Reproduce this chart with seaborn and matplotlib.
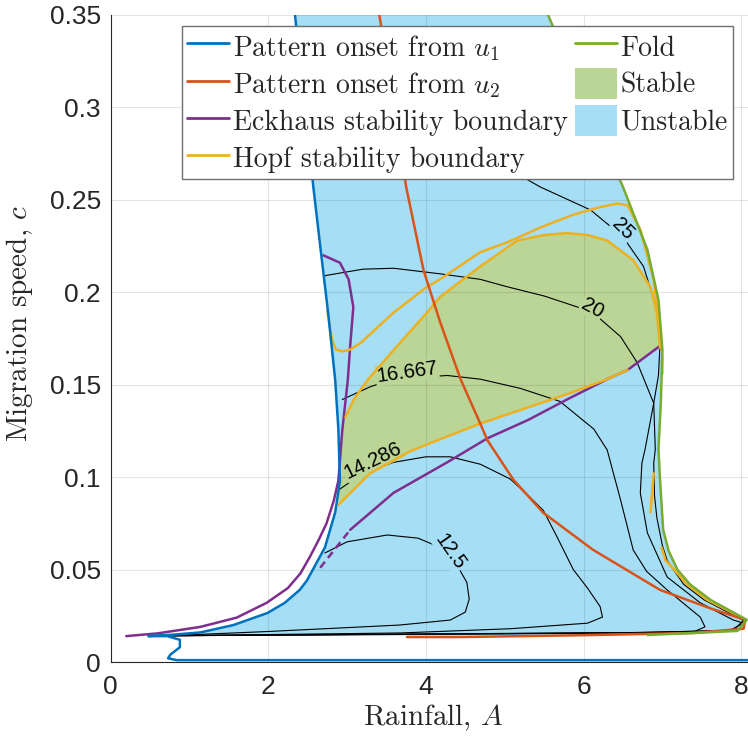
import numpy as np
import matplotlib
matplotlib.use("Agg")
import matplotlib.pyplot as plt
import seaborn as sns
from matplotlib.lines import Line2D
from matplotlib.patches import Patch

# ---------- 0. values (A = rainfall, c = migration speed) ----------

# pattern onset from u1: upper branch, cusp, wiggle, then the c ~ 0 branch
onset_u1_A = [2.34, 2.57, 2.66, 2.76, 2.85, 2.89, 2.91, 2.85, 2.72, 2.49, 2.40, 2.21, 1.99, 1.56,
              1.14, 0.80, 0.48, 0.72, 0.88, 0.88, 0.76, 0.73, 0.84, 8.2]
onset_u1_c = [0.350, 0.258, 0.225, 0.189, 0.1525, 0.126, 0.098, 0.081, 0.062, 0.044, 0.039, 0.032,
              0.0265, 0.020, 0.016, 0.0148, 0.014, 0.014, 0.012, 0.008, 0.004, 0.002, 0.001, 0.001]

# pattern onset from u2
onset_u2_A = [3.41, 3.60, 3.75, 3.97, 4.18, 4.44, 4.69, 4.78, 5.11, 5.49, 6.12, 6.97, 7.61, 8.05,
              8.03, 7.39, 6.00, 4.44, 3.76]
onset_u2_c = [0.350, 0.300, 0.257, 0.212, 0.184, 0.153, 0.129, 0.120, 0.0986, 0.0807, 0.0607, 0.039,
              0.029, 0.0228, 0.018, 0.0157, 0.0145, 0.0135, 0.0135]

# Eckhaus boundary, outer left branch
eck1_A = [0.20, 0.60, 1.14, 1.60, 1.98, 2.25, 2.41, 2.53, 2.64, 2.74, 2.83, 2.89, 2.94, 3.01, 3.04,
          3.08, 3.02, 2.91, 2.70]
eck1_c = [0.014, 0.0155, 0.019, 0.024, 0.032, 0.040, 0.048, 0.057, 0.066, 0.075, 0.087, 0.098,
          0.1255, 0.1525, 0.171, 0.192, 0.207, 0.216, 0.220]

# Eckhaus boundary, inner diagonal branch
eck2_A = [2.66, 3.04, 3.59, 4.27, 4.78, 5.30, 5.79, 6.30, 6.56, 6.97]
eck2_c = [0.051, 0.0715, 0.0915, 0.108, 0.121, 0.131, 0.142, 0.153, 0.158, 0.171]

# Hopf boundary pieces
hopf1_A = [2.75, 2.77, 2.81, 2.86, 2.94, 3.04, 3.17, 3.59, 4.01, 4.18, 4.69, 5.03, 5.45, 5.87,
           6.20, 6.43, 6.56, 6.72, 6.89, 6.97, 7.00, 7.00]
hopf1_c = [0.190, 0.185, 0.174, 0.169, 0.168, 0.169, 0.1725, 0.189, 0.2028, 0.207, 0.2217, 0.227,
           0.235, 0.242, 0.246, 0.248, 0.247, 0.234, 0.2066, 0.1796, 0.165, 0.156]
hopf2_A = [2.98, 3.08, 3.26, 3.59, 4.01, 4.18, 4.69, 5.16, 5.50, 5.79, 6.05, 6.30, 6.63, 6.85,
           6.93, 6.97]
hopf2_c = [0.1325, 0.1417, 0.1525, 0.1687, 0.1888, 0.1975, 0.214, 0.228, 0.231, 0.232, 0.231,
           0.228, 0.2174, 0.2028, 0.1888, 0.170]
hopf3_A = [2.89, 3.29, 3.80, 4.27, 4.69, 5.28, 5.80, 6.30, 6.56]
hopf3_c = [0.085, 0.102, 0.114, 0.122, 0.129, 0.1375, 0.145, 0.153, 0.158]
hopf4_A = [6.85, 6.87, 6.89]
hopf4_c = [0.081, 0.092, 0.102]
hopf5_A = [6.99, 7.04, 7.15, 7.31, 7.57, 8.03]
hopf5_c = [0.062, 0.055, 0.050, 0.042, 0.0336, 0.0235]

# fold
fold_A = [5.55, 5.85, 6.18, 6.50, 6.81, 6.95, 7.00, 6.98, 6.95, 6.97, 7.01, 7.08, 7.19, 7.35,
          7.61, 8.07, 7.95, 7.39, 6.81]
fold_c = [0.350, 0.320, 0.288, 0.257, 0.223, 0.196, 0.169, 0.140, 0.115, 0.0986, 0.0715, 0.060,
          0.050, 0.042, 0.0336, 0.0228, 0.0168, 0.0157, 0.0146]

# wavelength contours
c125_A = [2.72, 3.00, 3.51, 3.90, 4.18, 4.40, 4.52, 4.55, 4.50, 4.31, 3.67, 2.00, 0.72]
c125_c = [0.059, 0.065, 0.0687, 0.067, 0.062, 0.052, 0.043, 0.034, 0.027, 0.0227, 0.020, 0.0165,
          0.0142]
c14286_A = [2.89, 3.20, 3.59, 4.00, 4.31, 4.69, 5.07, 5.30, 5.49, 5.66, 5.87, 6.05, 6.21, 6.24,
            6.05, 5.07, 3.67, 0.72]
c14286_c = [0.093, 0.102, 0.108, 0.111, 0.111, 0.107, 0.099, 0.090, 0.082, 0.068, 0.050, 0.040,
            0.030, 0.0243, 0.021, 0.018, 0.0157, 0.0142]
c16667_A = [2.94, 3.30, 3.59, 4.27, 4.69, 5.20, 5.70, 6.13, 6.30, 6.47, 6.63, 6.80, 7.06, 7.48,
            7.54, 7.39, 5.00, 0.72]
c16667_c = [0.142, 0.149, 0.153, 0.155, 0.153, 0.148, 0.141, 0.126, 0.1147, 0.0876, 0.0606,
            0.049, 0.039, 0.0243, 0.019, 0.0162, 0.0152, 0.0142]
c20_A = [2.72, 3.20, 3.59, 4.18, 4.69, 5.03, 5.50, 5.96, 6.20, 6.47, 6.68, 6.89, 6.91, 6.89,
         6.90, 6.93, 7.00, 7.06, 7.27, 7.53, 8.03, 7.90, 6.80, 0.72]
c20_c = [0.209, 0.2125, 0.213, 0.210, 0.207, 0.203, 0.198, 0.1915, 0.186, 0.176, 0.162, 0.140,
         0.115, 0.1076, 0.090, 0.078, 0.063, 0.055, 0.042, 0.0336, 0.0225, 0.0172, 0.016, 0.0142]
c25_A = [2.47, 3.50, 4.50, 5.45, 6.09, 6.50, 6.76, 6.93, 6.97, 6.95, 6.89, 6.78, 6.74, 6.72,
         6.81, 7.06, 7.48, 7.90, 8.03, 7.85, 6.50, 0.72]
c25_c = [0.290, 0.292, 0.280, 0.257, 0.2445, 0.230, 0.214, 0.191, 0.172, 0.155, 0.140, 0.115,
         0.1076, 0.0914, 0.0698, 0.046, 0.032, 0.0227, 0.021, 0.017, 0.0158, 0.0142]

contour_levels = ["12.5", "14.286", "16.667", "20", "25"]
label_A = [4.31, 3.33, 3.76, 6.11, 6.50]
label_c = [0.0595, 0.109, 0.157, 0.1915, 0.234]

x_ticks = [0, 2, 4, 6, 8]
y_ticks = [0, 0.05, 0.1, 0.15, 0.2, 0.25, 0.3, 0.35]
y_tick_labels = ["0", "0.05", "0.1", "0.15", "0.2", "0.25", "0.3", "0.35"]

# ---------- 1. style ----------
BLUE, RED, YELLOW, PURPLE, GREEN = "#0072BD", "#D95319", "#EDB120", "#7E2F8E", "#77AC30"
UNSTABLE_FILL, STABLE_FILL = "#A6DEF6", "#BBD597"
AXCOL = "#262626"

sns.set_theme(style="white")
plt.rcParams["font.family"] = ["Liberation Sans", "DejaVu Sans"]
plt.rcParams["mathtext.fontset"] = "cm"
plt.rcParams["axes.unicode_minus"] = False

fig = plt.figure(figsize=(7.48, 7.38), dpi=100)
# axes runs a little past the right edge of the picture, like the cropped original
ax = fig.add_axes([110.5 / 748, 76 / 738, 646.5 / 748, 647 / 738])


def curve(A, c, color, lw=1.8, z=4, ls="-"):
    sns.lineplot(x=A, y=c, sort=False, estimator=None, color=color, lw=lw,
                 linestyle=ls, ax=ax, zorder=z)


# ---------- 2. filled regions ----------
cusp = int(np.argmin(onset_u1_A))
unstable_A = onset_u1_A[:cusp + 1] + fold_A[::-1]
unstable_c = onset_u1_c[:cusp + 1] + fold_c[::-1]
ax.fill(unstable_A, unstable_c, color=UNSTABLE_FILL, lw=0, zorder=1)

stable_A = hopf3_A + eck2_A[-1:] + hopf2_A[::-1] + [eck1_A[12], eck1_A[11]]
stable_c = hopf3_c + eck2_c[-1:] + hopf2_c[::-1] + [eck1_c[12], eck1_c[11]]
ax.fill(stable_A, stable_c, color=STABLE_FILL, lw=0, zorder=1.1)

# ---------- 3. contours + labels ----------
for A, c in [(c125_A, c125_c), (c14286_A, c14286_c), (c16667_A, c16667_c),
             (c20_A, c20_c), (c25_A, c25_c)]:
    curve(A, c, "black", lw=0.8, z=3)

rotations = [-55, 26, 8, -28, -45]
label_bg = [UNSTABLE_FILL, STABLE_FILL, STABLE_FILL, STABLE_FILL, UNSTABLE_FILL]
for s, a, c, r, bg in zip(contour_levels, label_A, label_c, rotations, label_bg):
    ax.text(a, c, s, rotation=r, rotation_mode="anchor", ha="center", va="center",
            fontsize=14.5, color="black", zorder=3.5,
            bbox=dict(boxstyle="square,pad=0.05", fc=bg, ec="none"))

# ---------- 4. boundaries ----------
curve(eck1_A, eck1_c, PURPLE)
curve(eck2_A[:2], eck2_c[:2], PURPLE, ls=(0, (3, 2)))
curve(eck2_A[1:], eck2_c[1:], PURPLE)
for A, c in [(hopf1_A, hopf1_c), (hopf2_A, hopf2_c), (hopf3_A, hopf3_c),
             (hopf4_A, hopf4_c), (hopf5_A, hopf5_c)]:
    curve(A, c, YELLOW)
curve(onset_u2_A, onset_u2_c, RED)
curve(onset_u1_A, onset_u1_c, BLUE)
curve(fold_A, fold_c, GREEN, z=4.5)

# ---------- 5. axes ----------
ax.set_xlim(0, 8.2)
ax.set_ylim(0, 0.35)
ax.set_xticks(x_ticks)
ax.set_yticks(y_ticks)
ax.set_yticklabels(y_tick_labels)
ax.set_axisbelow(False)
ax.grid(True, color=(0.15, 0.15, 0.15), alpha=0.12, lw=0.8)
for side in ["top", "right"]:
    ax.spines[side].set_visible(False)
for side in ["left", "bottom"]:
    ax.spines[side].set_color(AXCOL)
    ax.spines[side].set_linewidth(0.8)
ax.tick_params(direction="in", length=4, width=0.8, colors=AXCOL, labelsize=19)
ax.tick_params(axis="x", pad=9)
ax.tick_params(axis="y", pad=7)

ax.set_xlabel("Rainfall, $A$", fontsize=21, family="cmr10", color=AXCOL)
ax.set_ylabel("Migration speed, $c$", fontsize=21, family="cmr10", color=AXCOL)
ax.xaxis.set_label_coords(0.5, -0.0634)
ax.yaxis.set_label_coords(-0.117, 0.524)

# ---------- 6. legend ----------
handles = [Line2D([], [], color=BLUE, lw=2), Line2D([], [], color=RED, lw=2),
           Line2D([], [], color=PURPLE, lw=2), Line2D([], [], color=YELLOW, lw=2),
           Line2D([], [], color=GREEN, lw=2),
           Patch(facecolor=STABLE_FILL, edgecolor="none"),
           Patch(facecolor=UNSTABLE_FILL, edgecolor="none")]
labels = ["Pattern onset from $u_1$", "Pattern onset from $u_2$", "Eckhaus stability boundary",
          "Hopf stability boundary", "Fold", "Stable", "Unstable"]
leg = ax.legend(handles, labels, ncol=2, loc="upper left",
                bbox_to_anchor=(182 / 748, 1 - 26 / 738), bbox_transform=fig.transFigure,
                borderaxespad=0, prop={"family": "cmr10", "size": 20},
                handlelength=1.51, handleheight=1.36, handletextpad=0.14,
                columnspacing=0.25, labelspacing=0.2, borderpad=0.18,
                frameon=True, fancybox=False, framealpha=1, edgecolor="#6e6e6e")
leg.get_frame().set_linewidth(1.0)
leg.set_zorder(10)

fig.savefig("out.png", dpi=100)
